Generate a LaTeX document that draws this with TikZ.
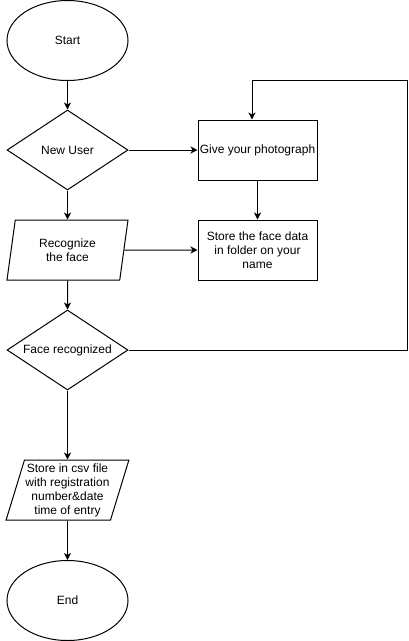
\documentclass[tikz,border=0pt]{standalone}
\usepackage{fontspec}
\setmainfont{Liberation Sans}
\usetikzlibrary{shapes.geometric,arrows.meta}
\tikzset{
  base/.style={draw=black, line width=1pt, align=center, inner sep=1pt,
    font=\fontsize{12}{14}\selectfont},
  term/.style={base, ellipse, minimum width=121pt, minimum height=80pt},
  decision/.style={base, diamond, shape aspect=1.5125, minimum width=121pt, minimum height=80pt},
  io/.style={base, trapezium, trapezium left angle=71.57, trapezium right angle=108.43,
    trapezium stretches body, minimum width=121pt, minimum height=60pt},
  proc/.style={base, rectangle, minimum width=119pt, minimum height=60pt},
  conn/.style={line width=1pt, -{Stealth[length=7pt,width=7pt,inset=2pt]}}
}
\begin{document}
\begin{tikzpicture}[x=1pt,y=-1pt]
\useasboundingbox (0,0) rectangle (409,641);
\node[term] (start) at (67.5,40.5) {Start};
\node[decision] (nu) at (67.5,150) {New User};
\node[io] (rec) at (67.5,250) {Recognize\\the face};
\node[decision] (fr) at (67.5,350) {Face recognized};
\node[io] (csv) at (67.5,490) {Store in csv file\\with registration\\number\&date\\time of entry};
\node[term] (end) at (67.5,600.5) {End};
\node[proc] (gp) at (257.5,150) {Give your photograph};
\node[proc] (sf) at (257.5,250) {Store the face data\\in folder on your\\name};
\coordinate (c1) at (407,350);
\coordinate (c2) at (407,80);
\coordinate (c3) at (252,80);
\draw[conn] (start) -- (nu);
\draw[conn] (nu) -- (rec);
\draw[conn] (rec) -- (fr);
\draw[conn] (fr) -- (csv);
\draw[conn] (csv) -- (end);
\draw[conn] (nu.east) -- (gp.west);
\draw[conn] (gp) -- (sf);
\draw[conn] (rec.east) -- (sf.west);
\draw[conn] (fr.east) -- (c1) -- (c2) -- (c3) -- (c3 |- gp.north);
\end{tikzpicture}
\end{document}
